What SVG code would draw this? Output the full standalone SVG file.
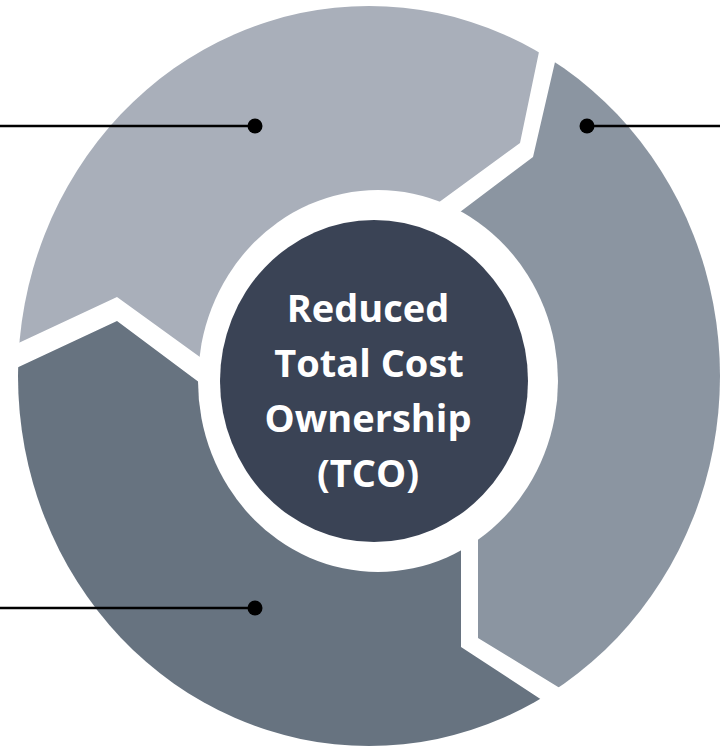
<svg xmlns="http://www.w3.org/2000/svg" width="720" height="746" viewBox="0 0 720 746">
  <defs>
    <clipPath id="outer">
      <ellipse cx="369" cy="376" rx="351" ry="370"/>
    </clipPath>
  </defs>
  <style>
    .seg1 { fill: #A9AFBA; }
    .seg2 { fill: #8B95A1; }
    .seg3 { fill: #677380; }
    .hole { fill: #FFFFFF; }
    .core { fill: #3A4355; }
    .label { font-family: "Open Sans", "Liberation Sans", sans-serif; font-weight: 700; font-size: 38px; fill: #FFFFFF; text-anchor: middle; }
    .lead { stroke: #000000; stroke-width: 2.5; fill: none; }
    .dot { fill: #000000; }
  </style>
  <rect width="720" height="746" fill="#FFFFFF"/>

  <g id="segment-top-left" clip-path="url(#outer)">
    <polygon class="seg1" points="375,380 380,245 442,200 520,143 540,47 550,-2 -20,-20 -20,361 117,297 193,352 250,393"/>
  </g>
  <g id="segment-right" clip-path="url(#outer)">
    <polygon class="seg2" points="375,380 400,257 460,212 533,157 555,62 570,-20 760,-20 760,766 687,766 563,690 478,638 478,440"/>
  </g>
  <g id="segment-bottom-left" clip-path="url(#outer)">
    <polygon class="seg3" points="375,380 461,440 461,647 545,702 643,766 -20,766 -20,385 117,321 192,377 250,420"/>
  </g>

  <g id="center-node">
    <ellipse class="hole" cx="378" cy="381" rx="180" ry="191"/>
    <ellipse class="core" cx="374" cy="381" rx="154" ry="161"/>
    <text class="label" x="368" y="322">Reduced</text>
    <text class="label" x="369" y="377">Total Cost</text>
    <text class="label" x="368" y="432">Ownership</text>
    <text class="label" x="368" y="487">(TCO)</text>
  </g>

  <g id="connectors">
    <line class="lead" x1="0" y1="126" x2="255" y2="126"/>
    <circle class="dot" cx="255" cy="126" r="7.5"/>
    <line class="lead" x1="587" y1="126" x2="720" y2="126"/>
    <circle class="dot" cx="587" cy="126" r="7.5"/>
    <line class="lead" x1="0" y1="608" x2="255" y2="608"/>
    <circle class="dot" cx="255" cy="608" r="7.5"/>
  </g>
</svg>
